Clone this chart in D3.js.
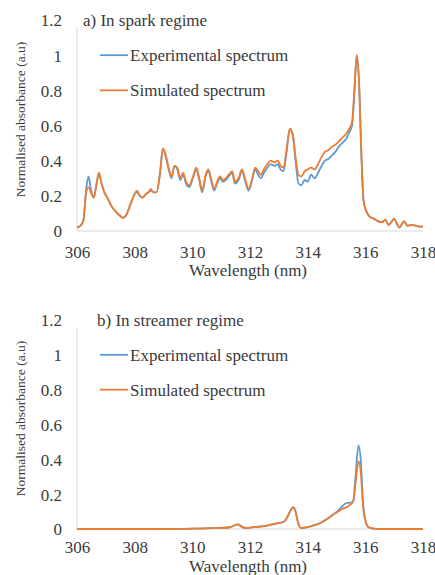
<!DOCTYPE html>
<html>
<head>
<meta charset="utf-8">
<script src="https://cdn.jsdelivr.net/npm/d3@7"></script>
<style>
  body { margin: 0; background: #fff; }
</style>
</head>
<body>
<div id="chart"></div>
<script>
// ticks shared by both panels
const xTicks = [306, 308, 310, 312, 314, 316, 318];
const yTicks = [0, 0.2, 0.4, 0.6, 0.8, 1, 1.2];

// a) spark regime
const sparkWl = [306.00, 306.12, 306.22, 306.32, 306.40, 306.48, 306.58, 306.68, 306.76, 306.85,
  306.95, 307.05, 307.20, 307.35, 307.50, 307.60, 307.70, 307.85, 308.00, 308.08,
  308.18, 308.28, 308.38, 308.48, 308.56, 308.66, 308.76, 308.88, 308.98, 309.08,
  309.18, 309.28, 309.38, 309.48, 309.58, 309.68, 309.78, 309.90, 310.02, 310.14,
  310.24, 310.34, 310.46, 310.56, 310.66, 310.76, 310.86, 310.96, 311.06, 311.16,
  311.26, 311.38, 311.48, 311.60, 311.72, 311.84, 311.95, 312.06, 312.18, 312.28,
  312.38, 312.48, 312.60, 312.72, 312.84, 312.96, 313.06, 313.16, 313.26, 313.38,
  313.48, 313.58, 313.68, 313.78, 313.90, 314.00, 314.12, 314.24, 314.36, 314.48,
  314.60, 314.72, 314.84, 314.96, 315.08, 315.20, 315.32, 315.44, 315.54, 315.62,
  315.70, 315.78, 315.86, 315.94, 316.04, 316.16, 316.30, 316.45, 316.58, 316.70,
  316.80, 316.92, 317.00, 317.10, 317.18, 317.34, 317.46, 317.60, 317.75, 317.90, 318.00];
const sparkExp = [0.02, 0.03, 0.06, 0.24, 0.31, 0.24, 0.19, 0.27, 0.33, 0.27,
  0.22, 0.19, 0.14, 0.11, 0.085, 0.075, 0.09, 0.15, 0.21, 0.22,
  0.20, 0.19, 0.21, 0.22, 0.23, 0.22, 0.22, 0.33, 0.47, 0.42,
  0.35, 0.30, 0.37, 0.35, 0.29, 0.32, 0.27, 0.25, 0.30, 0.35,
  0.29, 0.22, 0.31, 0.34, 0.28, 0.23, 0.27, 0.30, 0.28, 0.29,
  0.31, 0.33, 0.27, 0.29, 0.34, 0.28, 0.23, 0.28, 0.35, 0.32,
  0.30, 0.33, 0.36, 0.38, 0.37, 0.38, 0.35, 0.34, 0.44, 0.58,
  0.55, 0.40, 0.27, 0.26, 0.29, 0.28, 0.32, 0.30, 0.33, 0.37,
  0.40, 0.41, 0.43, 0.45, 0.48, 0.50, 0.52, 0.56, 0.60, 0.79,
  1.00, 0.85, 0.45, 0.17, 0.11, 0.08, 0.07, 0.055, 0.05, 0.065,
  0.035, 0.055, 0.07, 0.04, 0.02, 0.055, 0.03, 0.035, 0.03, 0.025, 0.025];
const sparkSim = [0.02, 0.03, 0.06, 0.22, 0.25, 0.22, 0.19, 0.27, 0.33, 0.27,
  0.22, 0.19, 0.14, 0.11, 0.085, 0.075, 0.09, 0.15, 0.21, 0.23,
  0.20, 0.19, 0.21, 0.22, 0.24, 0.22, 0.22, 0.33, 0.47, 0.43,
  0.36, 0.31, 0.37, 0.36, 0.30, 0.33, 0.28, 0.26, 0.31, 0.36,
  0.30, 0.23, 0.32, 0.35, 0.29, 0.24, 0.28, 0.31, 0.29, 0.30,
  0.32, 0.34, 0.28, 0.30, 0.35, 0.29, 0.24, 0.29, 0.36, 0.34,
  0.32, 0.35, 0.38, 0.40, 0.39, 0.40, 0.37, 0.36, 0.45, 0.58,
  0.55, 0.42, 0.32, 0.31, 0.34, 0.35, 0.36, 0.35, 0.38, 0.42,
  0.45, 0.46, 0.48, 0.49, 0.51, 0.53, 0.55, 0.58, 0.62, 0.80,
  1.00, 0.85, 0.45, 0.17, 0.11, 0.08, 0.07, 0.055, 0.05, 0.065,
  0.035, 0.055, 0.07, 0.04, 0.02, 0.055, 0.03, 0.035, 0.03, 0.025, 0.025];

// b) streamer regime
const streamerWl = [306.0, 307.0, 308.0, 309.0, 310.0, 310.5, 311.0, 311.3, 311.45, 311.58,
  311.7, 311.85, 312.0, 312.3, 312.6, 312.85, 313.05, 313.2, 313.3, 313.42,
  313.5, 313.58, 313.66, 313.76, 313.9, 314.1, 314.3, 314.5, 314.7, 314.9,
  315.05, 315.2, 315.35, 315.48, 315.58, 315.66, 315.76, 315.84, 315.92, 316.0,
  316.1, 316.25, 316.5, 317.0, 318.0];
const streamerExp = [0, 0, 0, 0, 0.002, 0.004, 0.006, 0.01, 0.02, 0.027,
  0.015, 0.005, 0.008, 0.013, 0.02, 0.03, 0.035, 0.045, 0.07, 0.11,
  0.125, 0.10, 0.04, 0.005, 0.008, 0.015, 0.025, 0.04, 0.06, 0.085,
  0.105, 0.13, 0.15, 0.15, 0.16, 0.30, 0.48, 0.40, 0.15, 0.05,
  0.012, 0.003, 0, 0, 0];
const streamerSim = [0, 0, 0, 0, 0.002, 0.004, 0.006, 0.01, 0.02, 0.027,
  0.015, 0.005, 0.008, 0.013, 0.02, 0.03, 0.035, 0.045, 0.07, 0.11,
  0.125, 0.10, 0.04, 0.005, 0.008, 0.015, 0.025, 0.04, 0.06, 0.085,
  0.10, 0.115, 0.125, 0.14, 0.16, 0.26, 0.39, 0.33, 0.13, 0.05,
  0.012, 0.003, 0, 0, 0];

const colors = { exp: '#5b9bd5', sim: '#ed7d31', axis: '#d9d9d9', text: '#3a3a3a' };
const serif = "'Liberation Serif', 'DejaVu Serif', serif";

const svg = d3.select('#chart').append('svg')
  .attr('width', 435)
  .attr('height', 575)
  .style('font-family', serif);

function drawPanel(opt) {
  const x = d3.scaleLinear().domain([306, 318]).range([77, 423]);
  const y = d3.scaleLinear().domain([0, 1.2]).range([opt.bottom, opt.top]);
  const g = svg.append('g');

  // axis lines (light grey, no ticks)
  g.append('line')
    .attr('x1', x(306)).attr('x2', x(306))
    .attr('y1', y(1.2) + 8).attr('y2', y(0))
    .attr('stroke', colors.axis).attr('stroke-width', 1);
  g.append('line')
    .attr('x1', x(306)).attr('x2', x(318))
    .attr('y1', y(0)).attr('y2', y(0))
    .attr('stroke', colors.axis).attr('stroke-width', 1);

  const yAxis = g.append('g')
    .attr('transform', 'translate(62,0)')
    .call(d3.axisLeft(y).tickValues(yTicks).tickSize(0).tickPadding(0)
      .tickFormat(d => d3.format('~g')(d)));
  yAxis.attr('font-family', null).attr('font-size', null);
  yAxis.select('.domain').remove();
  yAxis.selectAll('text')
    .attr('font-family', serif)
    .attr('font-size', 17)
    .attr('dy', '0.35em')
    .attr('fill', colors.text);

  const xAxis = g.append('g')
    .attr('transform', `translate(0,${y(0) + opt.tickGap})`)
    .call(d3.axisBottom(x).tickValues(xTicks).tickSize(0).tickPadding(0));
  xAxis.attr('font-family', null).attr('font-size', null);
  xAxis.select('.domain').remove();
  xAxis.selectAll('text')
    .attr('font-family', serif)
    .attr('font-size', 17)
    .attr('dy', '0.35em')
    .attr('fill', colors.text);

  // axis titles
  g.append('text')
    .attr('x', 248)
    .attr('y', y(0) + opt.titleGap)
    .attr('dy', '0.35em')
    .attr('text-anchor', 'middle')
    .attr('fill', colors.text)
    .attr('font-family', serif)
    .attr('font-size', 17)
    .text('Wavelength (nm)');

  g.append('text')
    .attr('transform', `translate(20,${(opt.top + opt.bottom) / 2 - 6}) rotate(-90)`)
    .attr('dy', '0.35em')
    .attr('text-anchor', 'middle')
    .attr('fill', colors.text)
    .attr('font-family', serif)
    .attr('font-size', 13.5)
    .text('Normalised absorbance (a.u)');

  // series
  const line = d3.line()
    .x(d => x(d[0]))
    .y(d => y(d[1]))
    .curve(d3.curveMonotoneX);

  const expPts = opt.wl.map((w, i) => [w, opt.exp[i]]);
  const simPts = opt.wl.map((w, i) => [w, opt.sim[i]]);

  g.append('path').datum(expPts)
    .attr('d', line)
    .attr('fill', 'none')
    .attr('stroke', colors.exp)
    .attr('stroke-width', 1.8)
    .attr('stroke-linejoin', 'round');
  g.append('path').datum(simPts)
    .attr('d', line)
    .attr('fill', 'none')
    .attr('stroke', colors.sim)
    .attr('stroke-width', 1.8)
    .attr('stroke-linejoin', 'round');

  // panel title
  g.append('text')
    .attr('x', opt.titleX)
    .attr('y', y(1.2))
    .attr('dy', '0.35em')
    .attr('fill', colors.text)
    .attr('font-family', serif)
    .attr('font-size', 17)
    .text(opt.title);

  // legend
  const legend = [
    { name: 'Experimental spectrum', color: colors.exp, v: 1.0 },
    { name: 'Simulated spectrum', color: colors.sim, v: 0.8 }
  ];
  legend.forEach(l => {
    g.append('line')
      .attr('x1', 100).attr('x2', 128)
      .attr('y1', y(l.v)).attr('y2', y(l.v))
      .attr('stroke', l.color).attr('stroke-width', 1.8);
    g.append('text')
      .attr('x', 130)
      .attr('y', y(l.v))
      .attr('dy', '0.35em')
      .attr('fill', colors.text)
      .attr('font-family', serif)
      .attr('font-size', 17)
      .text(l.name);
  });
}

drawPanel({ top: 20, bottom: 231, wl: sparkWl, exp: sparkExp, sim: sparkSim,
  title: 'a) In spark regime', titleX: 83, tickGap: 21, titleGap: 39 });
drawPanel({ top: 320, bottom: 529, wl: streamerWl, exp: streamerExp, sim: streamerSim,
  title: 'b) In streamer regime', titleX: 97, tickGap: 18, titleGap: 37 });
</script>
</body>
</html>
